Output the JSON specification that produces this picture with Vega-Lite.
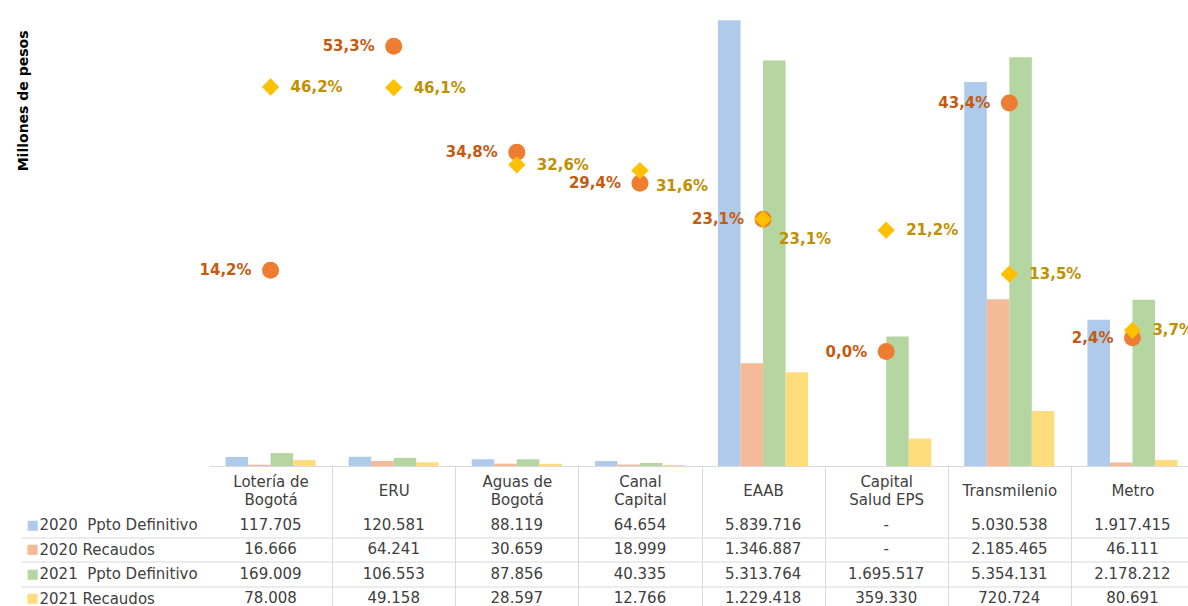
{
  "$schema": "https://vega.github.io/schema/vega-lite/v6.json",
  "background": "white",
  "padding": {"left": 16, "top": 8, "right": 0, "bottom": 0},
  "autosize": {"type": "pad"},
  "bounds": "flush",
  "spacing": 46.5,
  "config": {
    "view": {"stroke": null},
    "font": "DejaVu Sans",
    "locale": {"number": {"decimal": ",", "thousands": ".", "grouping": [3], "currency": ["$", ""]}}
  },
  "datasets": {
    "bars": [
      {"entity": "Lotería de Bogotá", "serie": "2020  Ppto Definitivo", "value": 117705},
      {"entity": "Lotería de Bogotá", "serie": "2020 Recaudos", "value": 16666},
      {"entity": "Lotería de Bogotá", "serie": "2021  Ppto Definitivo", "value": 169009},
      {"entity": "Lotería de Bogotá", "serie": "2021 Recaudos", "value": 78008},
      {"entity": "ERU", "serie": "2020  Ppto Definitivo", "value": 120581},
      {"entity": "ERU", "serie": "2020 Recaudos", "value": 64241},
      {"entity": "ERU", "serie": "2021  Ppto Definitivo", "value": 106553},
      {"entity": "ERU", "serie": "2021 Recaudos", "value": 49158},
      {"entity": "Aguas de Bogotá", "serie": "2020  Ppto Definitivo", "value": 88119},
      {"entity": "Aguas de Bogotá", "serie": "2020 Recaudos", "value": 30659},
      {"entity": "Aguas de Bogotá", "serie": "2021  Ppto Definitivo", "value": 87856},
      {"entity": "Aguas de Bogotá", "serie": "2021 Recaudos", "value": 28597},
      {"entity": "Canal Capital", "serie": "2020  Ppto Definitivo", "value": 64654},
      {"entity": "Canal Capital", "serie": "2020 Recaudos", "value": 18999},
      {"entity": "Canal Capital", "serie": "2021  Ppto Definitivo", "value": 40335},
      {"entity": "Canal Capital", "serie": "2021 Recaudos", "value": 12766},
      {"entity": "EAAB", "serie": "2020  Ppto Definitivo", "value": 5839716},
      {"entity": "EAAB", "serie": "2020 Recaudos", "value": 1346887},
      {"entity": "EAAB", "serie": "2021  Ppto Definitivo", "value": 5313764},
      {"entity": "EAAB", "serie": "2021 Recaudos", "value": 1229418},
      {"entity": "Capital Salud EPS", "serie": "2020  Ppto Definitivo", "value": null},
      {"entity": "Capital Salud EPS", "serie": "2020 Recaudos", "value": null},
      {"entity": "Capital Salud EPS", "serie": "2021  Ppto Definitivo", "value": 1695517},
      {"entity": "Capital Salud EPS", "serie": "2021 Recaudos", "value": 359330},
      {"entity": "Transmilenio", "serie": "2020  Ppto Definitivo", "value": 5030538},
      {"entity": "Transmilenio", "serie": "2020 Recaudos", "value": 2185465},
      {"entity": "Transmilenio", "serie": "2021  Ppto Definitivo", "value": 5354131},
      {"entity": "Transmilenio", "serie": "2021 Recaudos", "value": 720724},
      {"entity": "Metro", "serie": "2020  Ppto Definitivo", "value": 1917415},
      {"entity": "Metro", "serie": "2020 Recaudos", "value": 46111},
      {"entity": "Metro", "serie": "2021  Ppto Definitivo", "value": 2178212},
      {"entity": "Metro", "serie": "2021 Recaudos", "value": 80691}
    ],
    "pct": [
      {"entity": "Lotería de Bogotá", "year": "2020", "pct": 0.142},
      {"entity": "Lotería de Bogotá", "year": "2021", "pct": 0.462},
      {"entity": "ERU", "year": "2020", "pct": 0.533},
      {"entity": "ERU", "year": "2021", "pct": 0.461},
      {"entity": "Aguas de Bogotá", "year": "2020", "pct": 0.348},
      {"entity": "Aguas de Bogotá", "year": "2021", "pct": 0.326},
      {"entity": "Canal Capital", "year": "2020", "pct": 0.294},
      {"entity": "Canal Capital", "year": "2021", "pct": 0.316},
      {"entity": "EAAB", "year": "2020", "pct": 0.231},
      {"entity": "EAAB", "year": "2021", "pct": 0.231},
      {"entity": "Capital Salud EPS", "year": "2020", "pct": 0.0},
      {"entity": "Capital Salud EPS", "year": "2021", "pct": 0.212},
      {"entity": "Transmilenio", "year": "2020", "pct": 0.434},
      {"entity": "Transmilenio", "year": "2021", "pct": 0.135},
      {"entity": "Metro", "year": "2020", "pct": 0.024},
      {"entity": "Metro", "year": "2021", "pct": 0.037}
    ]
  },
  "resolve": {"scale": {"x": "independent", "y": "independent"}},
  "vconcat": [
    {
      "width": 985,
      "height": 458,
      "layer": [
        {
          "data": {"name": "bars"},
          "mark": {"type": "bar"},
          "encoding": {
            "x": {
              "field": "entity", "type": "nominal",
              "sort": ["Lotería de Bogotá", "ERU", "Aguas de Bogotá", "Canal Capital", "EAAB", "Capital Salud EPS", "Transmilenio", "Metro"],
              "scale": {"type": "band", "paddingInner": 0, "paddingOuter": 0},
              "axis": {
                "title": null, "grid": false,
                "domain": true, "domainColor": "#d9d9d9",
                "ticks": true, "tickBand": "extent", "tickSize": 46.5, "tickColor": "#d9d9d9",
                "tickOpacity": {"condition": {"test": "datum.extra", "value": 0}, "value": 1},
                "labelAngle": 0, "labelBaseline": "middle",
                "labelPadding": {"condition": {"test": "indexof(['Lotería de Bogotá', 'Aguas de Bogotá', 'Canal Capital', 'Capital Salud EPS'], datum.value) >= 0", "value": -31.5}, "value": -22.5},
                "labelLineHeight": 18, "labelFontSize": 15, "labelColor": "#404040", "labelLimit": 0,
                "labelExpr": "datum.label == 'Lotería de Bogotá' ? ['Lotería de', 'Bogotá'] : datum.label == 'Aguas de Bogotá' ? ['Aguas de', 'Bogotá'] : datum.label == 'Canal Capital' ? ['Canal', 'Capital'] : datum.label == 'Capital Salud EPS' ? ['Capital', 'Salud EPS'] : datum.label"
              }
            },
            "xOffset": {
              "field": "serie", "type": "nominal",
              "sort": ["2020  Ppto Definitivo", "2020 Recaudos", "2021  Ppto Definitivo", "2021 Recaudos"],
              "scale": {"paddingInner": 0, "paddingOuter": 0.733}
            },
            "y": {
              "field": "value", "type": "quantitative",
              "scale": {"domain": [0, 6000000], "nice": false},
              "axis": {
                "title": "Millones de pesos", "labels": false, "ticks": false, "domain": false, "grid": false,
                "titleFontSize": 14, "titleFontWeight": "bold", "titleColor": "#000000",
                "titlePadding": 179, "titleAnchor": "end", "titleAlign": "right", "titleY": 22
              }
            },
            "color": {
              "field": "serie", "type": "nominal",
              "scale": {
                "domain": ["2020  Ppto Definitivo", "2020 Recaudos", "2021  Ppto Definitivo", "2021 Recaudos"],
                "range": ["#AECBEB", "#F5BA97", "#B5D6A1", "#FFDD7D"]
              },
              "legend": null
            }
          }
        },
        {
          "data": {"name": "pct"},
          "encoding": {
            "x": {
              "field": "entity", "type": "nominal",
              "sort": ["Lotería de Bogotá", "ERU", "Aguas de Bogotá", "Canal Capital", "EAAB", "Capital Salud EPS", "Transmilenio", "Metro"]
            },
            "y": {
              "field": "pct", "type": "quantitative",
              "scale": {"domain": [-0.2, 0.6], "nice": false},
              "axis": null
            }
          },
          "layer": [
            {
              "transform": [{"filter": "datum.year == '2020'"}],
              "mark": {"type": "point", "shape": "circle", "filled": true, "size": 289, "color": "#ED7D31", "opacity": 1}
            },
            {
              "transform": [{"filter": "datum.year == '2021'"}],
              "mark": {"type": "point", "shape": "diamond", "filled": true, "size": 300, "color": "#FFC000", "opacity": 1}
            },
            {
              "transform": [{"filter": "datum.year == '2020'"}],
              "mark": {"type": "text", "align": "right", "baseline": "middle", "dx": -19, "fontWeight": "bold", "fontSize": 15, "color": "#C55A11"},
              "encoding": {"text": {"field": "pct", "type": "quantitative", "format": ".1%"}}
            },
            {
              "transform": [{"filter": "datum.year == '2021' && datum.entity != 'EAAB' && datum.entity != 'Canal Capital'"}],
              "mark": {"type": "text", "align": "left", "baseline": "middle", "dx": 20, "fontWeight": "bold", "fontSize": 15, "color": "#BF9000"},
              "encoding": {"text": {"field": "pct", "type": "quantitative", "format": ".1%"}}
            },
            {
              "transform": [{"filter": "datum.year == '2021' && datum.entity == 'EAAB'"}],
              "mark": {"type": "text", "align": "left", "baseline": "middle", "dx": 16, "dy": 20, "fontWeight": "bold", "fontSize": 15, "color": "#BF9000"},
              "encoding": {"text": {"field": "pct", "type": "quantitative", "format": ".1%"}}
            },
            {
              "transform": [{"filter": "datum.year == '2021' && datum.entity == 'Canal Capital'"}],
              "mark": {"type": "text", "align": "left", "baseline": "middle", "dx": 16, "dy": 15, "fontWeight": "bold", "fontSize": 15, "color": "#BF9000"},
              "encoding": {"text": {"field": "pct", "type": "quantitative", "format": ".1%"}}
            }
          ]
        }
      ],
      "resolve": {"scale": {"y": "independent"}}
    },
    {
      "width": 985,
      "height": 98,
      "data": {"name": "bars"},
      "layer": [
        {
          "mark": {"type": "text", "fontSize": 15, "color": "#404040", "baseline": "middle", "align": "center"},
          "encoding": {
            "x": {
              "field": "entity", "type": "nominal",
              "sort": ["Lotería de Bogotá", "ERU", "Aguas de Bogotá", "Canal Capital", "EAAB", "Capital Salud EPS", "Transmilenio", "Metro"],
              "scale": {"type": "band", "paddingInner": 0, "paddingOuter": 0},
              "axis": {
                "title": null, "labels": false, "ticks": false, "domain": false,
                "grid": true, "tickBand": "extent", "gridColor": "#d9d9d9",
                "gridOpacity": {"condition": {"test": "datum.extra", "value": 0}, "value": 1}
              }
            },
            "y": {
              "field": "serie", "type": "nominal",
              "sort": ["2020  Ppto Definitivo", "2020 Recaudos", "2021  Ppto Definitivo", "2021 Recaudos"],
              "scale": {"type": "band", "paddingInner": 0, "paddingOuter": 0},
              "axis": {
                "orient": "left", "title": null, "domain": false,
                "grid": true, "gridColor": "#d9d9d9",
                "gridOpacity": {"condition": {"test": "datum.extra", "value": 0}, "value": 1},
                "ticks": true, "tickBand": "extent", "tickSize": 188, "tickColor": "#d9d9d9",
                "tickOpacity": {"condition": {"test": "datum.extra", "value": 0}, "value": 1},
                "labelAlign": "left", "labelBaseline": "middle", "labelPadding": -18,
                "labelFontSize": 15, "labelColor": "#404040", "labelLimit": 0,
                "labelExpr": "replace(datum.label, '  ', '\u00a0 ')"
              }
            },
            "text": {
              "condition": {"test": "datum.value === null", "value": "-"},
              "field": "value", "type": "quantitative", "format": ",.0f"
            }
          }
        },
        {
          "mark": {"type": "text", "opacity": 0},
          "encoding": {
            "y": {
              "field": "serie", "type": "nominal",
              "sort": ["2020  Ppto Definitivo", "2020 Recaudos", "2021  Ppto Definitivo", "2021 Recaudos"],
              "scale": {"type": "band", "paddingInner": 0, "paddingOuter": 0},
              "axis": {
                "orient": "left", "title": null, "domain": false, "grid": false, "ticks": false,
                "labelAlign": "left", "labelBaseline": "middle", "labelPadding": 183, "labelFontSize": 13,
                "labelExpr": "'■'",
                "labelColor": {
                  "condition": [
                    {"test": "datum.value == '2020  Ppto Definitivo'", "value": "#AECBEB"},
                    {"test": "datum.value == '2020 Recaudos'", "value": "#F5BA97"},
                    {"test": "datum.value == '2021  Ppto Definitivo'", "value": "#B5D6A1"}
                  ],
                  "value": "#FFDD7D"
                }
              }
            },
            "text": {"value": ""}
          }
        }
      ],
      "resolve": {"axis": {"y": "independent"}}
    }
  ]
}
